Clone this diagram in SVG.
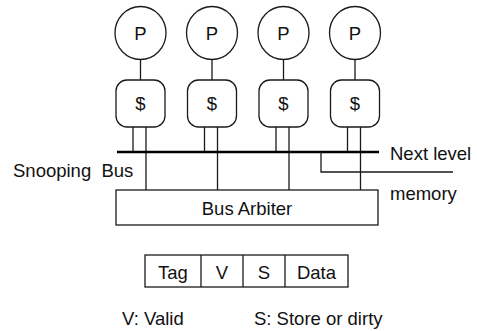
<svg xmlns="http://www.w3.org/2000/svg" width="477" height="331" viewBox="0 0 477 331">
  <style>
    .ln { stroke: #1a1a1a; stroke-width: 1.3; fill: none; }
    .bus { stroke: #000; stroke-width: 2.6; fill: none; }
    .shape { stroke: #1a1a1a; stroke-width: 1.3; fill: #fff; }
    text { font-family: "Liberation Sans", Arial, sans-serif; font-size: 18.5px; fill: #111; white-space: pre; }
    .c { text-anchor: middle; }
  </style>
  <rect width="477" height="331" fill="#fff"/>

  <!-- connectors -->
  <g id="connectors">
    <!-- processor to cache -->
    <line class="ln" x1="140.5" y1="60" x2="140.5" y2="80"/>
    <line class="ln" x1="212" y1="60" x2="212" y2="80"/>
    <line class="ln" x1="283.5" y1="60" x2="283.5" y2="80"/>
    <line class="ln" x1="355" y1="60" x2="355" y2="80"/>
    <!-- cache to snooping bus -->
    <line class="ln" x1="133" y1="127" x2="133" y2="152"/>
    <line class="ln" x1="204.5" y1="127" x2="204.5" y2="152"/>
    <line class="ln" x1="276" y1="127" x2="276" y2="152"/>
    <line class="ln" x1="347.5" y1="127" x2="347.5" y2="152"/>
    <!-- cache to bus arbiter -->
    <line class="ln" x1="146" y1="127" x2="146" y2="190"/>
    <line class="ln" x1="217.5" y1="127" x2="217.5" y2="190"/>
    <line class="ln" x1="289" y1="127" x2="289" y2="190"/>
    <line class="ln" x1="360.5" y1="127" x2="360.5" y2="190"/>
    <!-- snooping bus -->
    <line class="bus" x1="117" y1="152" x2="379" y2="152"/>
    <!-- link to next level memory -->
    <polyline class="ln" points="321,152 321,172 453,172"/>
  </g>

  <!-- processors -->
  <g id="p1"><ellipse class="shape" cx="140.5" cy="33" rx="25.5" ry="26.5"/><text class="c" x="140.5" y="39.5">P</text></g>
  <g id="p2"><ellipse class="shape" cx="212" cy="33" rx="25.5" ry="26.5"/><text class="c" x="212" y="39.5">P</text></g>
  <g id="p3"><ellipse class="shape" cx="283.5" cy="33" rx="25.5" ry="26.5"/><text class="c" x="283.5" y="39.5">P</text></g>
  <g id="p4"><ellipse class="shape" cx="355" cy="33" rx="25.5" ry="26.5"/><text class="c" x="355" y="39.5">P</text></g>

  <!-- caches -->
  <g id="cache1"><rect class="shape" x="116" y="80" width="49" height="47" rx="11"/><text class="c" x="140.5" y="110">$</text></g>
  <g id="cache2"><rect class="shape" x="187.5" y="80" width="49" height="47" rx="11"/><text class="c" x="212" y="110">$</text></g>
  <g id="cache3"><rect class="shape" x="259" y="80" width="49" height="47" rx="11"/><text class="c" x="283.5" y="110">$</text></g>
  <g id="cache4"><rect class="shape" x="330.5" y="80" width="49" height="47" rx="11"/><text class="c" x="355" y="110">$</text></g>

  <!-- bus arbiter -->
  <g id="arbiter">
    <rect class="shape" x="116" y="190" width="262" height="35"/>
    <text class="c" x="247" y="215">Bus Arbiter</text>
  </g>

  <!-- labels -->
  <g id="labels">
    <text x="13" y="177" xml:space="preserve">Snooping  Bus</text>
    <text x="390" y="160">Next level</text>
    <text x="390" y="200">memory</text>
  </g>

  <!-- cache line format -->
  <g id="line-format">
    <rect class="shape" x="145" y="255" width="203" height="32"/>
    <line class="ln" x1="201" y1="255" x2="201" y2="287"/>
    <line class="ln" x1="243" y1="255" x2="243" y2="287"/>
    <line class="ln" x1="285" y1="255" x2="285" y2="287"/>
    <text class="c" x="173" y="279">Tag</text>
    <text class="c" x="222" y="279">V</text>
    <text class="c" x="264" y="279">S</text>
    <text class="c" x="316.5" y="279">Data</text>
  </g>

  <!-- legend -->
  <g id="legend">
    <text x="122" y="325">V: Valid</text>
    <text x="254" y="325">S: Store or dirty</text>
  </g>
</svg>
